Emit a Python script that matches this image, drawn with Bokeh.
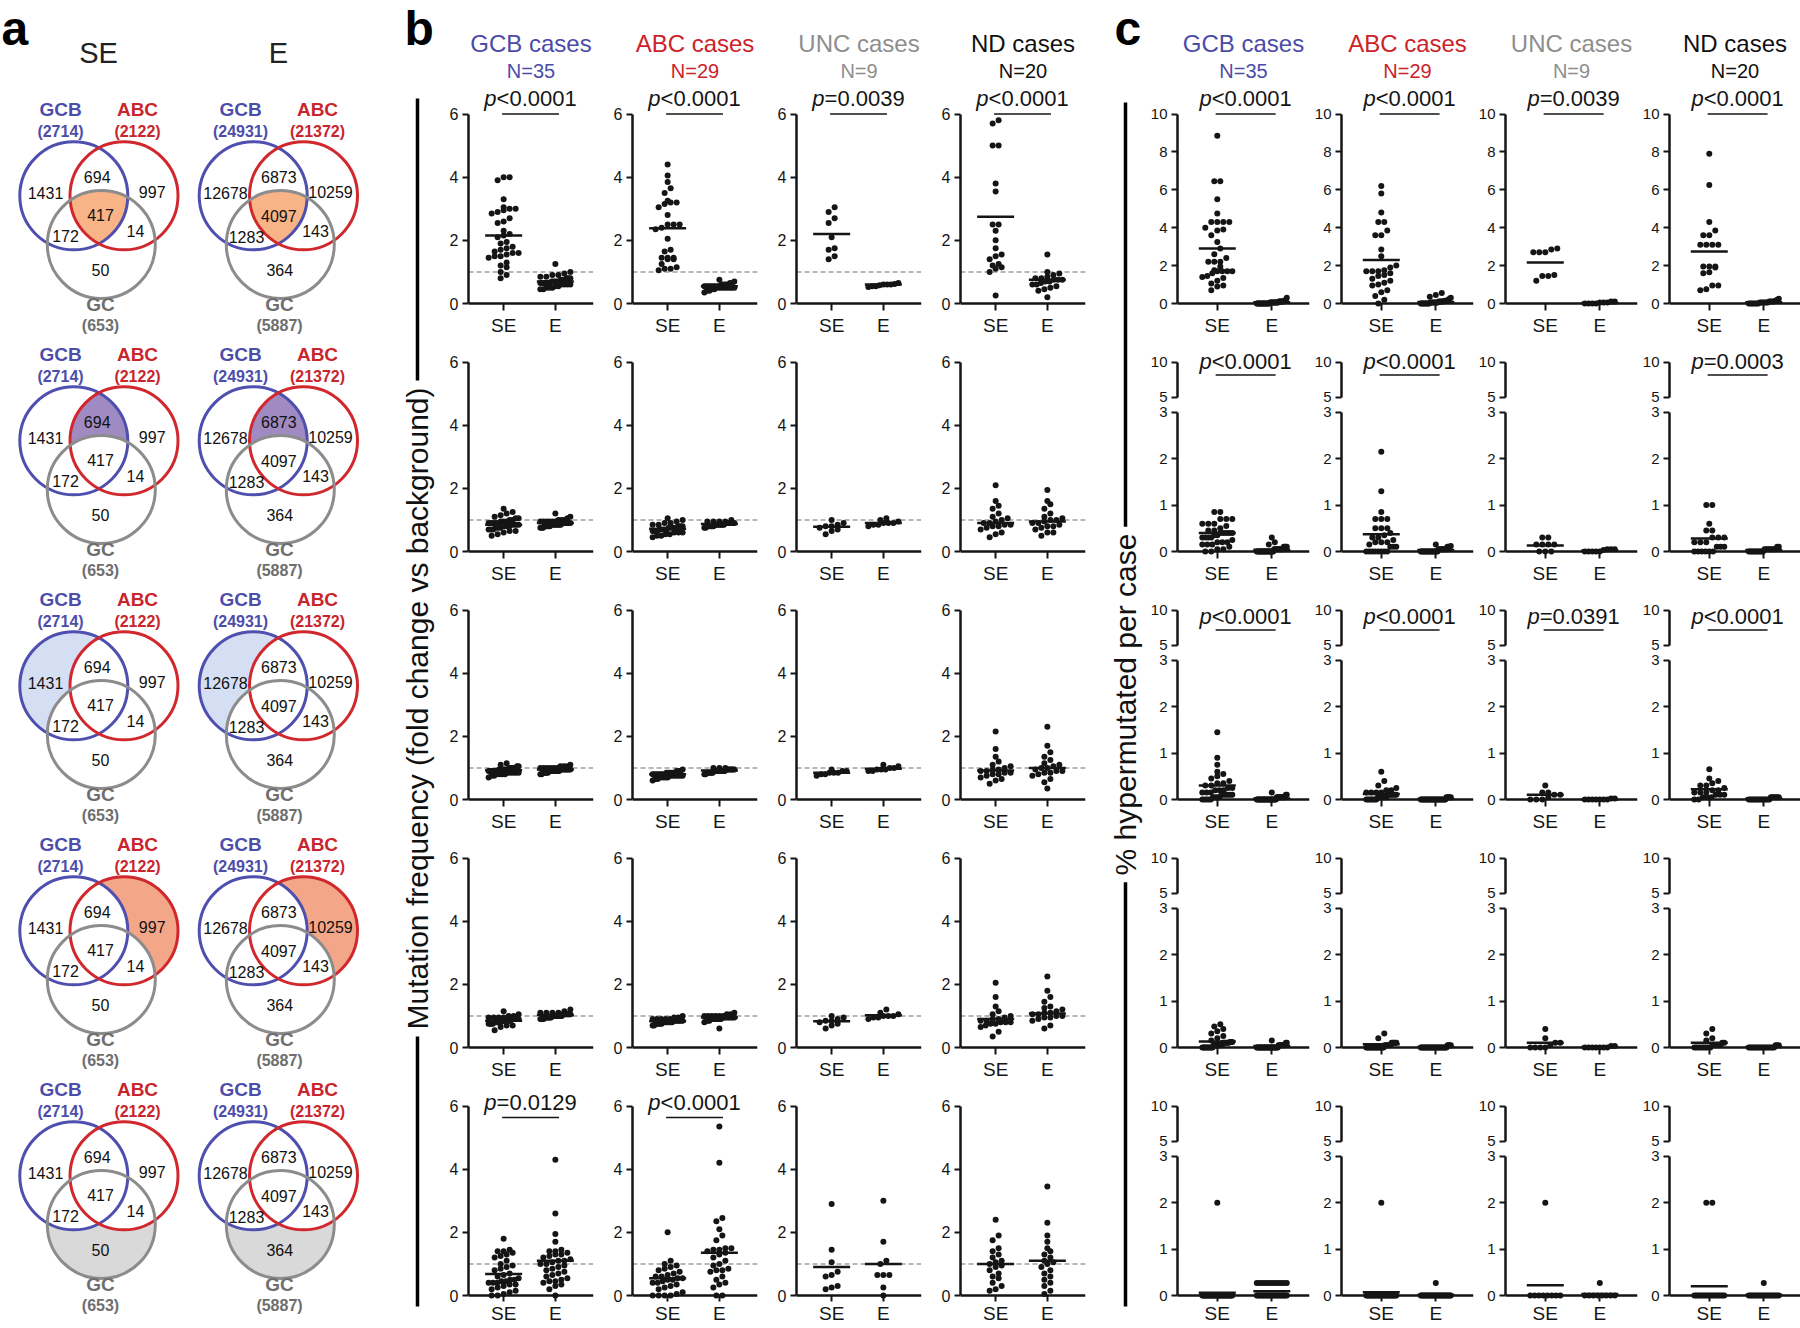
import numpy as np
from bokeh.plotting import figure
from bokeh.layouts import row, column
from bokeh.models import FixedTicker, Range1d, Span
from bokeh.core.properties import value
from bokeh.embed import file_html
from bokeh.resources import INLINE

FONT = "Liberation Sans"
INK = "#151515"

# ------------------------------------------------------------------ panel a data
VENN_SETS = ["GCB", "ABC", "GC"]
VENN_COLUMNS = ["SE", "E"]
SE_TOTALS = [2714, 2122, 653]
E_TOTALS = [24931, 21372, 5887]
# GCB only, GCB&ABC only, ABC only, all three, GCB&GC only, ABC&GC only, GC only
SE_REGIONS = [1431, 694, 997, 417, 172, 14, 50]
E_REGIONS = [12678, 6873, 10259, 4097, 1283, 143, 364]
HIGHLIGHT = ["all", "GCB&ABC", "GCB", "ABC", "GC"]
HIGHLIGHT_COLORS = ["#F8B387", "#A08AC2", "#D5DFF3", "#F4A688", "#D9D9D9"]

# ------------------------------------------------------------------ groups
GROUP_TITLES = ["GCB cases", "ABC cases", "UNC cases", "ND cases"]
GROUP_N = ["N=35", "N=29", "N=9", "N=20"]
GROUP_COLORS = ["#4B4BA8", "#CC2229", "#8E8E8E", "#111111"]
CONDITIONS = ["SE", "E"]

# ------------------------------------------------------------------ panel b data (fold change)
B1_GCB_SE = [4.0, 4.0, 3.9, 3.3, 3.05, 3.0, 3.0, 2.95, 2.9, 2.85, 2.7, 2.6, 2.55, 2.3, 2.2, 2.15, 2.1, 1.95, 1.9, 1.8, 1.75, 1.7, 1.65, 1.6, 1.6, 1.55, 1.5, 1.5, 1.45, 1.3, 1.2, 1.15, 1.0, 0.9, 0.8]
B1_GCB_E = [1.25, 1.0, 0.95, 0.9, 0.9, 0.85, 0.85, 0.8, 0.8, 0.8, 0.75, 0.75, 0.75, 0.7, 0.7, 0.7, 0.7, 0.7, 0.65, 0.65, 0.65, 0.65, 0.65, 0.65, 0.6, 0.6, 0.6, 0.6, 0.55, 0.55, 0.5, 0.5, 0.5, 0.45, 0.45]
B1_ABC_SE = [4.4, 4.05, 3.85, 3.65, 3.5, 3.25, 3.2, 3.2, 3.15, 3.05, 2.8, 2.5, 2.5, 2.5, 2.4, 2.35, 2.05, 1.7, 1.65, 1.45, 1.45, 1.4, 1.4, 1.45, 1.25, 1.15, 1.1, 1.1, 1.05]
B1_ABC_E = [0.75, 0.7, 0.65, 0.65, 0.6, 0.6, 0.6, 0.6, 0.55, 0.55, 0.55, 0.55, 0.55, 0.55, 0.55, 0.55, 0.5, 0.5, 0.5, 0.5, 0.5, 0.5, 0.5, 0.5, 0.45, 0.45, 0.4, 0.4, 0.35]
B1_UNC_SE = [3.05, 2.9, 2.7, 2.55, 2.1, 1.75, 1.7, 1.5, 1.4]
B1_UNC_E = [0.65, 0.62, 0.6, 0.6, 0.6, 0.58, 0.55, 0.55, 0.52]
B1_ND_SE = [5.8, 5.7, 5.0, 5.0, 3.8, 3.55, 2.5, 2.5, 2.3, 2.0, 1.75, 1.55, 1.5, 1.4, 1.25, 1.2, 1.15, 1.1, 1.0, 0.25]
B1_ND_E = [1.55, 1.0, 0.95, 0.9, 0.85, 0.8, 0.8, 0.75, 0.75, 0.75, 0.7, 0.7, 0.65, 0.6, 0.6, 0.55, 0.5, 0.45, 0.4, 0.2]

B2_GCB_SE = [1.35, 1.25, 1.2, 1.15, 1.1, 1.05, 1.05, 1.0, 1.0, 0.95, 0.95, 0.95, 0.9, 0.9, 0.9, 0.9, 0.85, 0.85, 0.85, 0.85, 0.8, 0.8, 0.8, 0.8, 0.75, 0.75, 0.75, 0.7, 0.7, 0.7, 0.65, 0.65, 0.6, 0.55, 0.5]
B2_GCB_E = [1.2, 1.1, 1.05, 1.0, 1.0, 1.0, 0.95, 0.95, 0.95, 0.95, 0.95, 0.95, 0.9, 0.9, 0.9, 0.9, 0.9, 0.9, 0.9, 0.85, 0.85, 0.85, 0.85, 0.85, 0.85, 0.85, 0.85, 0.8, 0.8, 0.8, 0.8, 0.8, 0.75, 0.75, 0.75]
B2_ABC_SE = [1.05, 1.0, 0.95, 0.9, 0.9, 0.85, 0.85, 0.8, 0.8, 0.8, 0.75, 0.75, 0.75, 0.75, 0.7, 0.7, 0.7, 0.7, 0.65, 0.65, 0.65, 0.6, 0.6, 0.6, 0.55, 0.55, 0.5, 0.5, 0.45]
B2_ABC_E = [1.0, 0.95, 0.95, 0.95, 0.95, 0.9, 0.9, 0.9, 0.9, 0.9, 0.9, 0.9, 0.9, 0.85, 0.85, 0.85, 0.85, 0.85, 0.85, 0.85, 0.85, 0.8, 0.8, 0.8, 0.8, 0.8, 0.8, 0.75, 0.75]
B2_UNC_SE = [1.0, 0.9, 0.85, 0.8, 0.8, 0.75, 0.7, 0.65, 0.55]
B2_UNC_E = [1.05, 1.0, 0.95, 0.9, 0.9, 0.9, 0.85, 0.85, 0.8]
B2_ND_SE = [2.1, 1.6, 1.45, 1.35, 1.2, 1.1, 1.05, 1.0, 0.95, 0.9, 0.9, 0.85, 0.85, 0.8, 0.8, 0.75, 0.7, 0.6, 0.55, 0.45]
B2_ND_E = [1.95, 1.6, 1.5, 1.35, 1.2, 1.1, 1.05, 1.0, 1.0, 0.95, 0.9, 0.9, 0.85, 0.8, 0.8, 0.75, 0.7, 0.6, 0.6, 0.5]

B3_GCB_SE = [1.15, 1.1, 1.05, 1.05, 1.0, 1.0, 1.0, 1.0, 1.0, 0.95, 0.95, 0.95, 0.95, 0.95, 0.95, 0.95, 0.9, 0.9, 0.9, 0.9, 0.9, 0.9, 0.9, 0.85, 0.85, 0.85, 0.85, 0.85, 0.8, 0.8, 0.8, 0.8, 0.75, 0.75, 0.7]
B3_GCB_E = [1.1, 1.05, 1.05, 1.05, 1.0, 1.0, 1.0, 1.0, 1.0, 1.0, 0.95, 0.95, 0.95, 0.95, 0.95, 0.95, 0.95, 0.95, 0.95, 0.9, 0.9, 0.9, 0.9, 0.9, 0.9, 0.9, 0.9, 0.9, 0.85, 0.85, 0.85, 0.85, 0.85, 0.8, 0.8]
B3_ABC_SE = [0.95, 0.9, 0.9, 0.9, 0.85, 0.85, 0.85, 0.85, 0.85, 0.8, 0.8, 0.8, 0.8, 0.8, 0.8, 0.8, 0.75, 0.75, 0.75, 0.75, 0.75, 0.75, 0.7, 0.7, 0.7, 0.7, 0.65, 0.65, 0.6]
B3_ABC_E = [1.0, 1.0, 1.0, 0.95, 0.95, 0.95, 0.95, 0.95, 0.95, 0.95, 0.95, 0.9, 0.9, 0.9, 0.9, 0.9, 0.9, 0.9, 0.9, 0.9, 0.9, 0.85, 0.85, 0.85, 0.85, 0.85, 0.85, 0.8, 0.8]
B3_UNC_SE = [0.95, 0.9, 0.9, 0.85, 0.85, 0.85, 0.8, 0.8, 0.75]
B3_UNC_E = [1.1, 1.05, 1.0, 1.0, 0.95, 0.95, 0.95, 0.9, 0.9]
B3_ND_SE = [2.15, 1.6, 1.35, 1.2, 1.1, 1.05, 1.0, 0.95, 0.95, 0.9, 0.9, 0.85, 0.85, 0.8, 0.8, 0.75, 0.7, 0.65, 0.6, 0.5]
B3_ND_E = [2.3, 1.7, 1.5, 1.35, 1.25, 1.15, 1.1, 1.05, 1.0, 1.0, 0.95, 0.9, 0.9, 0.85, 0.85, 0.8, 0.75, 0.65, 0.55, 0.35]

B4_GCB_SE = [1.15, 1.05, 1.0, 1.0, 0.95, 0.95, 0.95, 0.95, 0.9, 0.9, 0.9, 0.9, 0.9, 0.9, 0.85, 0.85, 0.85, 0.85, 0.85, 0.85, 0.85, 0.8, 0.8, 0.8, 0.8, 0.8, 0.8, 0.75, 0.75, 0.75, 0.75, 0.7, 0.7, 0.65, 0.55]
B4_GCB_E = [1.2, 1.15, 1.1, 1.1, 1.1, 1.1, 1.05, 1.05, 1.05, 1.05, 1.05, 1.05, 1.05, 1.05, 1.0, 1.0, 1.0, 1.0, 1.0, 1.0, 1.0, 1.0, 1.0, 1.0, 0.95, 0.95, 0.95, 0.95, 0.95, 0.95, 0.95, 0.9, 0.9, 0.9, 0.9]
B4_ABC_SE = [1.0, 0.95, 0.95, 0.9, 0.9, 0.9, 0.9, 0.9, 0.85, 0.85, 0.85, 0.85, 0.85, 0.85, 0.85, 0.8, 0.8, 0.8, 0.8, 0.8, 0.8, 0.8, 0.75, 0.75, 0.75, 0.75, 0.75, 0.7, 0.7]
B4_ABC_E = [1.1, 1.05, 1.05, 1.0, 1.0, 1.0, 1.0, 1.0, 1.0, 0.95, 0.95, 0.95, 0.95, 0.95, 0.95, 0.95, 0.95, 0.9, 0.9, 0.9, 0.9, 0.9, 0.9, 0.9, 0.85, 0.85, 0.85, 0.8, 0.6]
B4_UNC_SE = [1.0, 0.95, 0.9, 0.85, 0.85, 0.8, 0.75, 0.7, 0.6]
B4_UNC_E = [1.2, 1.1, 1.05, 1.0, 1.0, 1.0, 0.95, 0.95, 0.9]
B4_ND_SE = [2.05, 1.6, 1.3, 1.15, 1.05, 1.0, 0.95, 0.9, 0.9, 0.85, 0.85, 0.8, 0.8, 0.8, 0.75, 0.75, 0.7, 0.65, 0.5, 0.35]
B4_ND_E = [2.25, 1.8, 1.6, 1.45, 1.3, 1.25, 1.2, 1.15, 1.1, 1.1, 1.05, 1.05, 1.0, 1.0, 0.95, 0.95, 0.9, 0.85, 0.7, 0.6]

B5_GCB_SE = [1.8, 1.45, 1.4, 1.4, 1.35, 1.3, 1.25, 1.2, 1.1, 1.0, 0.95, 0.9, 0.85, 0.8, 0.7, 0.65, 0.6, 0.55, 0.5, 0.5, 0.45, 0.45, 0.4, 0.4, 0.4, 0.35, 0.35, 0.3, 0.25, 0.2, 0.15, 0.1, 0.05, 0.0, 0.0]
B5_GCB_E = [4.3, 2.6, 1.95, 1.7, 1.45, 1.4, 1.4, 1.35, 1.3, 1.3, 1.25, 1.2, 1.15, 1.1, 1.1, 1.05, 1.0, 1.0, 0.95, 0.9, 0.85, 0.8, 0.75, 0.7, 0.65, 0.6, 0.55, 0.5, 0.45, 0.45, 0.4, 0.35, 0.3, 0.2, 0.0]
B5_ABC_SE = [2.0, 1.1, 1.0, 0.95, 0.9, 0.85, 0.8, 0.75, 0.7, 0.65, 0.6, 0.6, 0.55, 0.55, 0.5, 0.5, 0.45, 0.4, 0.4, 0.35, 0.3, 0.25, 0.2, 0.1, 0.05, 0.0, 0.0, 0.0, 0.0]
B5_ABC_E = [5.35, 4.2, 2.45, 2.35, 2.1, 1.9, 1.75, 1.5, 1.5, 1.45, 1.45, 1.4, 1.35, 1.3, 1.2, 1.1, 1.0, 0.95, 0.85, 0.8, 0.8, 0.75, 0.6, 0.5, 0.4, 0.35, 0.25, 0.0, 0.0]
B5_UNC_SE = [2.9, 1.45, 1.05, 0.75, 0.65, 0.6, 0.3, 0.25, 0.2]
B5_UNC_E = [3.0, 1.7, 1.1, 1.0, 0.65, 0.65, 0.65, 0.25, 0.0]
B5_ND_SE = [2.4, 1.9, 1.75, 1.5, 1.4, 1.3, 1.2, 1.1, 1.05, 1.0, 0.95, 0.9, 0.8, 0.7, 0.6, 0.55, 0.4, 0.3, 0.2, 0.15]
B5_ND_E = [3.45, 2.3, 1.9, 1.7, 1.5, 1.4, 1.3, 1.2, 1.1, 1.05, 1.0, 0.9, 0.8, 0.7, 0.6, 0.5, 0.4, 0.3, 0.15, 0.05]

# group means (horizontal bars), order: GCB SE, GCB E, ABC SE, ABC E, UNC SE, UNC E, ND SE, ND E
B1_MEANS = [2.15, 0.70, 2.38, 0.55, 2.20, 0.60, 2.75, 0.75]
B2_MEANS = [0.85, 0.90, 0.72, 0.87, 0.78, 0.90, 0.90, 0.95]
B3_MEANS = [0.93, 0.95, 0.80, 0.92, 0.85, 0.97, 0.92, 1.00]
B4_MEANS = [0.85, 1.03, 0.83, 0.95, 0.83, 1.02, 0.90, 1.08]
B5_MEANS = [0.68, 1.10, 0.55, 1.35, 0.90, 1.00, 1.00, 1.10]

B_PVALUES_ROW1 = ["p<0.0001", "p<0.0001", "p=0.0039", "p<0.0001"]
B_PVALUES_ROW5 = ["p=0.0129", "p<0.0001", None, None]

# ------------------------------------------------------------------ panel c data (% hypermutated)
C1_GCB_SE = [8.85, 6.45, 6.45, 5.5, 4.75, 4.3, 4.3, 4.3, 4.3, 4.0, 3.9, 3.85, 3.6, 3.25, 2.9, 2.6, 2.4, 2.2, 2.2, 2.2, 1.95, 1.75, 1.7, 1.7, 1.7, 1.7, 1.6, 1.45, 1.4, 1.35, 1.2, 1.05, 0.95, 0.9, 0.7]
C1_GCB_E = [0.3, 0.2, 0.15, 0.15, 0.1, 0.1, 0.1, 0.1, 0.1, 0.1, 0.05, 0.05, 0.05, 0.05, 0.05, 0.05, 0.05, 0.05, 0.05, 0.05, 0, 0, 0, 0, 0, 0, 0, 0, 0, 0, 0, 0, 0, 0, 0]
C1_ABC_SE = [6.2, 5.8, 4.8, 4.3, 4.3, 3.85, 3.6, 3.6, 2.85, 2.5, 2.0, 1.9, 1.75, 1.7, 1.7, 1.7, 1.6, 1.5, 1.45, 1.3, 1.2, 1.1, 1.0, 0.95, 0.7, 0.6, 0.4, 0.2, 0.0]
C1_ABC_E = [0.55, 0.45, 0.35, 0.3, 0.25, 0.2, 0.15, 0.15, 0.15, 0.1, 0.1, 0.1, 0.1, 0.1, 0.05, 0.05, 0.05, 0.05, 0.05, 0.05, 0.05, 0, 0, 0, 0, 0, 0, 0, 0]
C1_UNC_SE = [2.9, 2.85, 2.7, 2.7, 2.7, 1.5, 1.45, 1.45, 1.2]
C1_UNC_E = [0.1, 0.1, 0.05, 0.05, 0.05, 0, 0, 0, 0]
C1_ND_SE = [7.9, 6.25, 4.3, 3.85, 3.6, 3.6, 3.1, 3.1, 3.1, 3.1, 1.95, 1.95, 1.95, 1.9, 1.65, 1.6, 0.95, 0.95, 0.75, 0.7]
C1_ND_E = [0.25, 0.2, 0.15, 0.1, 0.1, 0.1, 0.1, 0.05, 0.05, 0.05, 0.05, 0.05, 0.05, 0, 0, 0, 0, 0, 0, 0]

C2_GCB_SE = [0.85, 0.85, 0.7, 0.7, 0.7, 0.6, 0.6, 0.6, 0.55, 0.5, 0.45, 0.45, 0.4, 0.4, 0.4, 0.4, 0.4, 0.35, 0.35, 0.3, 0.3, 0.3, 0.3, 0.25, 0.2, 0.2, 0.2, 0.15, 0.15, 0.15, 0.1, 0.05, 0.05, 0, 0]
C2_GCB_E = [0.3, 0.2, 0.15, 0.1, 0.1, 0.1, 0.1, 0.05, 0.05, 0.05, 0.05, 0.05, 0.05, 0.05, 0.05, 0.05, 0.05, 0, 0, 0, 0, 0, 0, 0, 0, 0, 0, 0, 0, 0, 0, 0, 0, 0, 0]
C2_ABC_SE = [2.15, 1.3, 0.85, 0.7, 0.7, 0.7, 0.5, 0.5, 0.5, 0.4, 0.35, 0.3, 0.3, 0.25, 0.2, 0.2, 0.2, 0.15, 0.1, 0.1, 0.1, 0, 0, 0, 0, 0, 0, 0, 0]
C2_ABC_E = [0.15, 0.12, 0.1, 0.1, 0.1, 0.05, 0.05, 0.05, 0.05, 0.05, 0.05, 0.05, 0.05, 0, 0, 0, 0, 0, 0, 0, 0, 0, 0, 0, 0, 0, 0, 0, 0]
C2_UNC_SE = [0.3, 0.3, 0.15, 0.15, 0.15, 0.15, 0, 0, 0]
C2_UNC_E = [0.05, 0.05, 0.05, 0.03, 0, 0, 0, 0, 0]
C2_ND_SE = [1.0, 1.0, 0.6, 0.45, 0.45, 0.3, 0.3, 0.3, 0.2, 0.2, 0.2, 0.1, 0.1, 0.1, 0, 0, 0, 0, 0, 0]
C2_ND_E = [0.1, 0.1, 0.05, 0.05, 0.05, 0.05, 0.05, 0.05, 0.05, 0.05, 0, 0, 0, 0, 0, 0, 0, 0, 0, 0]

C3_GCB_SE = [1.45, 0.9, 0.75, 0.6, 0.55, 0.5, 0.45, 0.4, 0.35, 0.35, 0.3, 0.3, 0.25, 0.25, 0.2, 0.2, 0.2, 0.15, 0.15, 0.15, 0.1, 0.1, 0.1, 0.1, 0.1, 0.1, 0.05, 0.05, 0.05, 0.05, 0, 0, 0, 0, 0]
C3_GCB_E = [0.15, 0.1, 0.1, 0.05, 0.05, 0.05, 0.05, 0.05, 0.05, 0.05, 0.05, 0.05, 0.05, 0, 0, 0, 0, 0, 0, 0, 0, 0, 0, 0, 0, 0, 0, 0, 0, 0, 0, 0, 0, 0, 0]
C3_ABC_SE = [0.6, 0.4, 0.3, 0.25, 0.2, 0.2, 0.15, 0.15, 0.15, 0.15, 0.1, 0.1, 0.1, 0.1, 0.1, 0.1, 0.05, 0.05, 0.05, 0.05, 0.05, 0.05, 0, 0, 0, 0, 0, 0, 0]
C3_ABC_E = [0.05, 0.05, 0.05, 0.05, 0.05, 0, 0, 0, 0, 0, 0, 0, 0, 0, 0, 0, 0, 0, 0, 0, 0, 0, 0, 0, 0, 0, 0, 0, 0]
C3_UNC_SE = [0.3, 0.15, 0.15, 0.1, 0.1, 0.05, 0, 0, 0]
C3_UNC_E = [0.02, 0.02, 0, 0, 0, 0, 0, 0, 0]
C3_ND_SE = [0.65, 0.45, 0.4, 0.35, 0.3, 0.3, 0.25, 0.2, 0.2, 0.15, 0.15, 0.15, 0.1, 0.1, 0.1, 0.05, 0.05, 0.05, 0, 0]
C3_ND_E = [0.05, 0.05, 0.05, 0.05, 0.05, 0.05, 0, 0, 0, 0, 0, 0, 0, 0, 0, 0, 0, 0, 0, 0]

C4_GCB_SE = [0.5, 0.45, 0.4, 0.35, 0.3, 0.25, 0.2, 0.15, 0.12, 0.12, 0.12, 0.1, 0.1, 0.1, 0.1, 0.1, 0.1, 0.05, 0.05, 0.05, 0.05, 0.05, 0.05, 0.05, 0.05, 0, 0, 0, 0, 0, 0, 0, 0, 0, 0]
C4_GCB_E = [0.15, 0.1, 0.1, 0.05, 0.05, 0.05, 0.05, 0.05, 0.05, 0.05, 0.05, 0, 0, 0, 0, 0, 0, 0, 0, 0, 0, 0, 0, 0, 0, 0, 0, 0, 0, 0, 0, 0, 0, 0, 0]
C4_ABC_SE = [0.3, 0.2, 0.1, 0.1, 0.1, 0.1, 0.1, 0.05, 0.05, 0.05, 0.05, 0.05, 0.05, 0, 0, 0, 0, 0, 0, 0, 0, 0, 0, 0, 0, 0, 0, 0, 0]
C4_ABC_E = [0.05, 0.05, 0.05, 0.05, 0, 0, 0, 0, 0, 0, 0, 0, 0, 0, 0, 0, 0, 0, 0, 0, 0, 0, 0, 0, 0, 0, 0, 0, 0]
C4_UNC_SE = [0.4, 0.2, 0.1, 0.1, 0.05, 0, 0, 0, 0]
C4_UNC_E = [0.03, 0.03, 0, 0, 0, 0, 0, 0, 0]
C4_ND_SE = [0.4, 0.3, 0.2, 0.15, 0.1, 0.1, 0.05, 0.05, 0.05, 0.05, 0.05, 0, 0, 0, 0, 0, 0, 0, 0, 0]
C4_ND_E = [0.05, 0.05, 0.05, 0, 0, 0, 0, 0, 0, 0, 0, 0, 0, 0, 0, 0, 0, 0, 0, 0]

C5_GCB_SE = [2.0, 0, 0, 0, 0, 0, 0, 0, 0, 0, 0, 0, 0, 0, 0, 0, 0, 0, 0, 0, 0, 0, 0, 0, 0, 0, 0, 0, 0, 0, 0, 0, 0, 0, 0]
C5_GCB_E = [0.27, 0.27, 0.27, 0.27, 0.27, 0.27, 0.27, 0.27, 0.27, 0.27, 0.27, 0.27, 0, 0, 0, 0, 0, 0, 0, 0, 0, 0, 0, 0, 0, 0, 0, 0, 0, 0, 0, 0, 0, 0, 0]
C5_ABC_SE = [2.0, 0, 0, 0, 0, 0, 0, 0, 0, 0, 0, 0, 0, 0, 0, 0, 0, 0, 0, 0, 0, 0, 0, 0, 0, 0, 0, 0, 0]
C5_ABC_E = [0.27, 0, 0, 0, 0, 0, 0, 0, 0, 0, 0, 0, 0, 0, 0, 0, 0, 0, 0, 0, 0, 0, 0, 0, 0, 0, 0, 0, 0]
C5_UNC_SE = [2.0, 0, 0, 0, 0, 0, 0, 0, 0]
C5_UNC_E = [0.27, 0, 0, 0, 0, 0, 0, 0, 0]
C5_ND_SE = [2.0, 2.0, 0, 0, 0, 0, 0, 0, 0, 0, 0, 0, 0, 0, 0, 0, 0, 0, 0, 0]
C5_ND_E = [0.27, 0, 0, 0, 0, 0, 0, 0, 0, 0, 0, 0, 0, 0, 0, 0, 0, 0, 0, 0]

C1_MEANS = [2.90, 0.07, 2.30, 0.08, 2.17, 0.03, 2.75, 0.07]
C2_MEANS = [0.40, 0.04, 0.37, 0.03, 0.13, 0.02, 0.28, 0.03]
C3_MEANS = [0.30, 0.02, 0.12, 0.01, 0.10, 0.00, 0.22, 0.02]
C4_MEANS = [0.13, 0.03, 0.07, 0.01, 0.10, 0.01, 0.10, 0.01]
C5_MEANS = [0.06, 0.09, 0.07, 0.01, 0.22, 0.03, 0.20, 0.01]

C_PVALUES_ROW1 = ["p<0.0001", "p<0.0001", "p=0.0039", "p<0.0001"]
C_PVALUES_ROW2 = ["p<0.0001", "p<0.0001", None, "p=0.0003"]
C_PVALUES_ROW3 = ["p<0.0001", "p<0.0001", "p=0.0391", "p<0.0001"]

B_TICKS = [0, 2, 4, 6]
C1_TICKS = [0, 2, 4, 6, 8, 10]
C_LOW_TICKS = [0, 1, 2, 3]
C_HIGH_TICKS = [5, 10]

B_YLABEL = "Mutation frequency (fold change vs background)"
C_YLABEL = "% hypermutated per case"

# ------------------------------------------------------------------ assembled tables
B_DATA = [
    [(B1_GCB_SE, B1_GCB_E), (B1_ABC_SE, B1_ABC_E), (B1_UNC_SE, B1_UNC_E), (B1_ND_SE, B1_ND_E)],
    [(B2_GCB_SE, B2_GCB_E), (B2_ABC_SE, B2_ABC_E), (B2_UNC_SE, B2_UNC_E), (B2_ND_SE, B2_ND_E)],
    [(B3_GCB_SE, B3_GCB_E), (B3_ABC_SE, B3_ABC_E), (B3_UNC_SE, B3_UNC_E), (B3_ND_SE, B3_ND_E)],
    [(B4_GCB_SE, B4_GCB_E), (B4_ABC_SE, B4_ABC_E), (B4_UNC_SE, B4_UNC_E), (B4_ND_SE, B4_ND_E)],
    [(B5_GCB_SE, B5_GCB_E), (B5_ABC_SE, B5_ABC_E), (B5_UNC_SE, B5_UNC_E), (B5_ND_SE, B5_ND_E)],
]
B_MEANS = [B1_MEANS, B2_MEANS, B3_MEANS, B4_MEANS, B5_MEANS]
B_PVALUES = [B_PVALUES_ROW1, [None] * 4, [None] * 4, [None] * 4, B_PVALUES_ROW5]
C_DATA = [
    [(C1_GCB_SE, C1_GCB_E), (C1_ABC_SE, C1_ABC_E), (C1_UNC_SE, C1_UNC_E), (C1_ND_SE, C1_ND_E)],
    [(C2_GCB_SE, C2_GCB_E), (C2_ABC_SE, C2_ABC_E), (C2_UNC_SE, C2_UNC_E), (C2_ND_SE, C2_ND_E)],
    [(C3_GCB_SE, C3_GCB_E), (C3_ABC_SE, C3_ABC_E), (C3_UNC_SE, C3_UNC_E), (C3_ND_SE, C3_ND_E)],
    [(C4_GCB_SE, C4_GCB_E), (C4_ABC_SE, C4_ABC_E), (C4_UNC_SE, C4_UNC_E), (C4_ND_SE, C4_ND_E)],
    [(C5_GCB_SE, C5_GCB_E), (C5_ABC_SE, C5_ABC_E), (C5_UNC_SE, C5_UNC_E), (C5_ND_SE, C5_ND_E)],
]
C_MEANS = [C1_MEANS, C2_MEANS, C3_MEANS, C4_MEANS, C5_MEANS]
C_PVALUES = [C_PVALUES_ROW1, C_PVALUES_ROW2, C_PVALUES_ROW3, [None] * 4, [None] * 4]

# ------------------------------------------------------------------ geometry (page pixels; layout at 0,0)
PAGE_W, PAGE_H = 1800, 1328
ROW_Y0 = [303, 551, 799, 1047, 1295]
ROW_PAD = 39
ROW_TOPGAP = 209
AXIS_H = 189.5

A_X0, A_X1 = 0, 400
BL_X0, BL_X1 = 400, 436
B_PITCH, B_FRAME_W, B_LEFT = 164, 125, 32
B_X0, B_PPX = 0.32, 51.7
CL_X0, CL_X1 = BL_X1 + 4 * B_PITCH, 1147
C_PITCH, C_FRAME_W, C_LEFT = 164, 132, 30
C_X0, C_PPX = 0.27, 54.5

# p-value placement per row, in pixels above the zero line: (bar, text centre)
C_P_UPPER = {1: (176.5, 190.0), 2: (169.5, 183.0)}

LETTER_FS = 48
LETTER_Y = 28

CHAR_W = {"<": 0.584, "=": 0.584, ".": 0.278}


def row_bottom(r):
    return PAGE_H if r == 4 else ROW_Y0[r] + ROW_PAD


def row_top(r):
    return 0 if r == 0 else ROW_Y0[r] - ROW_TOPGAP


def base_fig(w, h, xr, yr, left, right, top, bottom, xaxis=True, yaxis=True):
    p = figure(width=int(w), height=int(h), x_range=Range1d(*xr), y_range=Range1d(*yr),
               output_backend="svg", toolbar_location=None,
               x_axis_location="below" if xaxis else None,
               y_axis_location="left" if yaxis else None,
               min_border_left=int(left), min_border_right=int(right),
               min_border_top=int(top), min_border_bottom=int(bottom))
    p.grid.visible = False
    p.outline_line_color = None
    return p


def style_y(p, ticks, bounds, fs="16px"):
    ax = p.yaxis[0]
    ax.ticker = FixedTicker(ticks=ticks, minor_ticks=[])
    ax.bounds = bounds
    ax.axis_line_width = 2.5
    ax.axis_line_color = INK
    ax.major_tick_line_width = 2
    ax.major_tick_line_color = INK
    ax.major_tick_out = 6
    ax.major_tick_in = 0
    ax.minor_tick_out = 0
    ax.minor_tick_in = 0
    ax.major_label_standoff = 4
    ax.major_label_text_font = FONT
    ax.major_label_text_font_size = fs
    ax.major_label_text_color = INK


def style_x(p, last=False):
    ax = p.xaxis[0]
    ax.ticker = FixedTicker(ticks=[1, 2], minor_ticks=[])
    ax.major_label_overrides = {1: CONDITIONS[0], 2: CONDITIONS[1]}
    ax.fixed_location = 0
    ax.axis_line_width = 2.5
    ax.axis_line_color = INK
    ax.major_tick_line_width = 2
    ax.major_tick_line_color = INK
    ax.major_tick_out = 6 if last else 7
    ax.major_tick_in = 0
    ax.minor_tick_out = 0
    ax.minor_tick_in = 0
    ax.major_label_standoff = 1 if last else 4
    ax.major_label_text_font = FONT
    ax.major_label_text_font_size = "19px"
    ax.major_label_text_color = INK


def swarm(vals, center, ppu_y, ppu_x, d=6.0, maxoff=15.0):
    vals = sorted(vals)
    groups = []
    for v in vals:
        if groups and (v - groups[-1][0]) * ppu_y < d:
            groups[-1].append(v)
        else:
            groups.append([v])
    xs, ys = [], []
    for g in groups:
        k = len(g)
        step = d if k == 1 else min(d, 2 * maxoff / (k - 1))
        for i, v in enumerate(g):
            xs.append(center + (i - (k - 1) / 2) * step / ppu_x)
            ys.append(v)
    return xs, ys


def draw_groups(p, se, e, m_se, m_e, ppu_y, ppu_x):
    hw = 18.5 / ppu_x
    for center, vals, m in ((1, se, m_se), (2, e, m_e)):
        xs, ys = swarm(vals, center, ppu_y, ppu_x)
        p.scatter(xs, ys, size=6, fill_color=INK, line_color=None)
        p.segment(x0=[center - hw], y0=[m], x1=[center + hw], y1=[m], line_width=2.5, line_color=INK)


def draw_p(p, text, ybar, ymid, ppu_x, fs=22):
    x0b, x1b = 0.97, 2.07
    p.segment(x0=[x0b], y0=[ybar], x1=[x1b], y1=[ybar], line_width=1.5, line_color=INK)
    sym, rest = text[0], text[1:]
    w_p = 0.556 * fs
    w_rest = sum(CHAR_W.get(ch, 0.556) for ch in rest) * fs
    total = w_p + w_rest
    cx = (x0b + x1b) / 2
    split = cx + (w_p - total / 2) / ppu_x
    p.text(x=[split], y=[ymid], text=[sym], text_align="right", text_baseline="middle",
           text_font=value(FONT), text_font_style="italic", text_font_size=f"{fs}px", text_color=INK)
    p.text(x=[split], y=[ymid], text=[rest], text_align="left", text_baseline="middle",
           text_font=value(FONT), text_font_size=f"{fs}px", text_color=INK)


def draw_titles(p, c, xr, y0, ppu):
    mid = (xr[0] + xr[1]) / 2
    p.text(x=[mid], y=[(y0 - 43) / ppu], text=[GROUP_TITLES[c]], text_align="center",
           text_baseline="middle", text_font=value(FONT), text_font_size="24px",
           text_color=GROUP_COLORS[c])
    p.text(x=[mid], y=[(y0 - 70) / ppu], text=[GROUP_N[c]], text_align="center",
           text_baseline="middle", text_font=value(FONT), text_font_size="20px",
           text_color=GROUP_COLORS[c])


# ------------------------------------------------------------------ panel b cells
def b_cell(r, c):
    y0 = ROW_Y0[r]
    top, bot = row_top(r), row_bottom(r)
    h = bot - top
    ppu = AXIS_H / 6
    yr = (-(bot - y0) / ppu, (y0 - top) / ppu)
    xr = (B_X0, B_X0 + B_FRAME_W / B_PPX)
    w = B_PITCH
    p = base_fig(w, h, xr, yr, B_LEFT, w - B_LEFT - B_FRAME_W, 0, 0)
    style_y(p, B_TICKS, (0, 6))
    style_x(p, last=(r == 4))
    p.add_layout(Span(location=1, dimension="width", line_color="#9f9f9f", line_dash="5 3",
                      line_width=1.5, level="underlay"))
    se, e = B_DATA[r][c]
    m = B_MEANS[r]
    draw_groups(p, se, e, m[2 * c], m[2 * c + 1], ppu, B_PPX)
    pv = B_PVALUES[r][c]
    if pv:
        if r == 0:
            draw_p(p, pv, 6.0, (y0 - 98) / ppu, B_PPX)
        else:
            draw_p(p, pv, 178 / ppu, 193 / ppu, B_PPX)
    if r == 0:
        draw_titles(p, c, xr, y0, ppu)
    return p


# ------------------------------------------------------------------ panel c cells
UP_PPU = 35 / 5
LO_PPU = 139.3 / 3
BREAK = 147


def c_cell(r, c):
    y0 = ROW_Y0[r]
    top, bot = row_top(r), row_bottom(r)
    w = C_PITCH if c < 3 else PAGE_W - (CL_X1 + 3 * C_PITCH)
    fw = min(C_FRAME_W, w - C_LEFT)
    right = w - C_LEFT - fw
    xr = (C_X0, C_X0 + fw / C_PPX)
    se, e = C_DATA[r][c]
    m = C_MEANS[r]
    pv = C_PVALUES[r][c]
    if r == 0:
        h = bot - top
        ppu = AXIS_H / 10
        yr = (-(bot - y0) / ppu, (y0 - top) / ppu)
        p = base_fig(w, h, xr, yr, C_LEFT, right, 0, 0)
        style_y(p, C1_TICKS, (0, 10), "15px")
        style_x(p)
        draw_groups(p, se, e, m[2 * c], m[2 * c + 1], ppu, C_PPX)
        if pv:
            draw_p(p, pv, 10.0, (y0 - 98) / ppu, C_PPX)
        draw_titles(p, c, xr, y0, ppu)
        return p
    # broken axis: upper (5..10) and lower (0..3) parts
    up_h = ROW_TOPGAP - BREAK
    up_bottom = 5
    up_frame = up_h - up_bottom
    y_lo = 5 - (154.5 - (BREAK + up_bottom)) / UP_PPU
    up = base_fig(w, up_h, xr, (y_lo, y_lo + up_frame / UP_PPU), C_LEFT, right, 0, up_bottom,
                  xaxis=False)
    style_y(up, C_HIGH_TICKS, (5, 10), "15px")
    if pv:
        bar_px, mid_px = C_P_UPPER[r]
        draw_p(up, pv, 5 + (bar_px - 154.5) / UP_PPU, 5 + (mid_px - 154.5) / UP_PPU, C_PPX)
    lo_h = bot - (y0 - BREAK)
    lo = base_fig(w, lo_h, xr, (-(bot - y0) / LO_PPU, BREAK / LO_PPU), C_LEFT, right, 0, 0)
    style_y(lo, C_LOW_TICKS, (0, 3), "15px")
    style_x(lo, last=(r == 4))
    draw_groups(lo, se, e, m[2 * c], m[2 * c + 1], LO_PPU, C_PPX)
    return column(up, lo, spacing=0)


# ------------------------------------------------------------------ panel a (Venn diagrams)
R_VENN = 54
VENN_CX = {"SE": [73.3, 123.5, 100.8], "E": [252.7, 303.0, 279.8]}
VENN_CY = [195.3, 195.3, 244.0]
VENN_LINE = ["#4E4FAE", "#D1282E", "#8C8C8C"]
VENN_TEXT = ["#4D4DAA", "#C8252C", "#6E6E6E"]
REGION_POS = {
    "SE": [(45, 192.7), (96.7, 176.7), (151.7, 191.7), (100, 214), (65, 235), (135, 230.7), (100, 269.3)],
    "E": [(225, 192.7), (278.3, 176.7), (330, 191.7), (278.3, 215), (246, 236), (315, 230.7), (279.3, 269.3)],
}
SET_LABEL_X = {"SE": [60, 137, 100], "E": [240, 317, 279]}
HEADER_X = {"SE": 98, "E": 278}
VENN_PITCH = 245


def convex_intersection(circles, r, n=720):
    t = np.linspace(0, 2 * np.pi, n, endpoint=False)
    pts = []
    for i, (cx, cy) in enumerate(circles):
        xs = cx + r * np.cos(t)
        ys = cy + r * np.sin(t)
        ok = np.ones(n, bool)
        for j, (ox, oy) in enumerate(circles):
            if j != i:
                ok &= (xs - ox) ** 2 + (ys - oy) ** 2 <= r * r + 1e-6
        pts.extend(zip(xs[ok], ys[ok]))
    pts = np.array(pts)
    cen = pts.mean(axis=0)
    order = np.argsort(np.arctan2(pts[:, 1] - cen[1], pts[:, 0] - cen[0]))
    return pts[order, 0].tolist(), pts[order, 1].tolist()


def venn_panel():
    p = base_fig(A_X1 - A_X0, PAGE_H, (A_X0, A_X1), (PAGE_H, 0), 0, 0, 0, 0,
                 xaxis=False, yaxis=False)
    p.text(x=[1], y=[LETTER_Y], text=["a"], text_align="left", text_baseline="middle",
           text_font=value(FONT), text_font_style="bold", text_font_size=f"{LETTER_FS}px",
           text_color="#000000")
    for col in VENN_COLUMNS:
        p.text(x=[HEADER_X[col]], y=[52], text=[col], text_align="center", text_baseline="middle",
               text_font=value(FONT), text_font_size="29px", text_color="#222222")
    for r, hl in enumerate(HIGHLIGHT):
        dy = VENN_PITCH * r
        for col in VENN_COLUMNS:
            totals = SE_TOTALS if col == "SE" else E_TOTALS
            regions = SE_REGIONS if col == "SE" else E_REGIONS
            cxs = VENN_CX[col]
            cys = [cy + dy for cy in VENN_CY]
            circ = list(zip(cxs, cys))
            fill = HIGHLIGHT_COLORS[r]
            if hl == "all":
                xs, ys = convex_intersection(circ, R_VENN)
                p.patch(xs, ys, fill_color=fill, line_color=None)
            elif hl == "GCB&ABC":
                xs, ys = convex_intersection(circ[:2], R_VENN)
                p.patch(xs, ys, fill_color=fill, line_color=None)
                p.circle(x=[cxs[2]], y=[cys[2]], radius=R_VENN, fill_color="white", line_color=None)
            else:
                k = VENN_SETS.index(hl)
                others = [i for i in range(3) if i != k]
                p.circle(x=[cxs[k]], y=[cys[k]], radius=R_VENN, fill_color=fill, line_color=None)
                p.circle(x=[cxs[i] for i in others], y=[cys[i] for i in others], radius=R_VENN,
                         fill_color="white", line_color=None)
            p.circle(x=cxs, y=cys, radius=R_VENN, fill_color=None, line_color=VENN_LINE, line_width=3)
            pos = REGION_POS[col]
            p.text(x=[q[0] for q in pos], y=[q[1] + dy for q in pos], text=[str(v) for v in regions],
                   text_align="center", text_baseline="middle", text_font=value(FONT),
                   text_font_size="16px", text_color="#111111")
            lx = SET_LABEL_X[col]
            name_y = [109 + dy, 109 + dy, 304 + dy]
            tot_y = [130.5 + dy, 130.5 + dy, 324.5 + dy]
            p.text(x=lx, y=name_y, text=VENN_SETS, text_align="center", text_baseline="middle",
                   text_font=value(FONT), text_font_style="bold", text_font_size="19px",
                   text_color=VENN_TEXT)
            p.text(x=lx, y=tot_y, text=[f"({t})" for t in totals], text_align="center",
                   text_baseline="middle", text_font=value(FONT), text_font_style="bold",
                   text_font_size="16px", text_color=VENN_TEXT)
    return p


def label_panel(x0, x1, line_x, top, bottom, text, em, center_y, letter, letter_x, fs=30):
    p = base_fig(x1 - x0, PAGE_H, (x0, x1), (PAGE_H, 0), 0, 0, 0, 0, xaxis=False, yaxis=False)
    half = em * fs / 2 + 7
    p.segment(x0=[line_x, line_x], y0=[top, center_y + half], x1=[line_x, line_x],
              y1=[center_y - half, bottom], line_width=3.5, line_color="#000000")
    p.text(x=[line_x], y=[center_y], text=[text], angle=np.pi / 2, text_align="center",
           text_baseline="middle", text_font=value(FONT), text_font_size=f"{fs}px",
           text_color="#111111")
    p.text(x=[letter_x], y=[LETTER_Y], text=[letter], text_align="left", text_baseline="middle",
           text_font=value(FONT), text_font_style="bold", text_font_size=f"{LETTER_FS}px",
           text_color="#000000")
    return p


fig_a = venn_panel()
lab_b = label_panel(BL_X0, BL_X1, 417, 98, 1306, B_YLABEL, 21.4, 708, "b", 404)
lab_c = label_panel(CL_X0, CL_X1, 1125, 102, 1306, C_YLABEL, 11.39, 704, "c", 1114)

b_grid = column([row([b_cell(r, c) for c in range(4)], spacing=0) for r in range(5)], spacing=0)
c_grid = column([row([c_cell(r, c) for c in range(4)], spacing=0) for r in range(5)], spacing=0)

layout = row([fig_a, lab_b, b_grid, lab_c, c_grid], spacing=0)

open("out.html", "w").write(file_html(layout, INLINE, title="Mutation frequency"))
